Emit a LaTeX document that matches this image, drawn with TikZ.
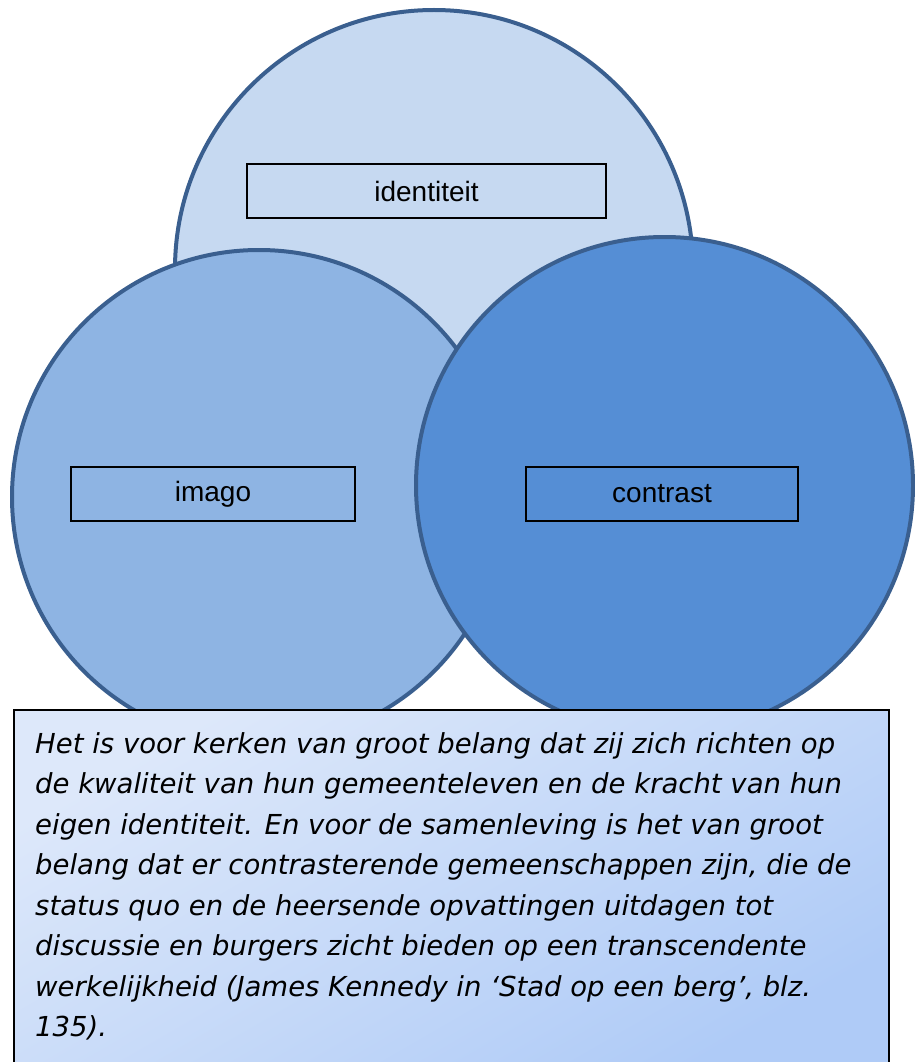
\documentclass[tikz,border=0pt]{standalone}
\usepackage{fontspec}
\setmainfont{Liberation Sans}
\newfontfamily\quotefont{DejaVu Sans}
\definecolor{ringc}{HTML}{3A5F8F}
\definecolor{topc}{HTML}{C6D9F1}
\definecolor{leftc}{HTML}{8EB4E3}
\definecolor{rightc}{HTML}{558ED5}
\definecolor{qa}{HTML}{DDE8FA}
\definecolor{qb}{HTML}{AFCBF7}
\tikzset{
  ring/.style={circle, draw=ringc, line width=4pt, inner sep=0pt},
  labelbox/.style={draw=black, line width=1.6pt, inner sep=0pt, font=\fontsize{28}{32}\selectfont},
}
\begin{document}
\begin{tikzpicture}[x=1pt,y=-1pt]
\useasboundingbox (0,0) rectangle (914,1062);
\node[ring, fill=topc, minimum size=518pt] (ctop) at (434,269) {};
\node[ring, fill=leftc, minimum size=494pt] (cleft) at (259,497) {};
\node[ring, fill=rightc, minimum size=497pt] (cright) at (664.5,485.5) {};
\node[labelbox, minimum width=359pt, minimum height=54pt] (lid) at (426.5,191) {identiteit};
\node[labelbox, minimum width=284pt, minimum height=54pt] (lim) at (213,494) {imago};
\node[labelbox, minimum width=272pt, minimum height=54pt] (lco) at (662,494) {contrast};
\path[draw=black, line width=1.6pt, left color=qa, right color=qb, shading angle=30] (14,710) rectangle (889,1070);
\node[anchor=north west, inner sep=0pt, align=left, font=\quotefont\itshape\fontsize{27.5}{40.5}\selectfont] (quote) at (35,732) {Het is voor kerken van groot belang dat zij zich richten op\\
de kwaliteit van hun gemeenteleven en de kracht van hun\\
eigen identiteit. En voor de samenleving is het van groot\\
belang dat er contrasterende gemeenschappen zijn, die de\\
status quo en de heersende opvattingen uitdagen tot\\
discussie en burgers zicht bieden op een transcendente\\
werkelijkheid (James Kennedy in ‘Stad op een berg’, blz.\\
135).};
\end{tikzpicture}
\end{document}
